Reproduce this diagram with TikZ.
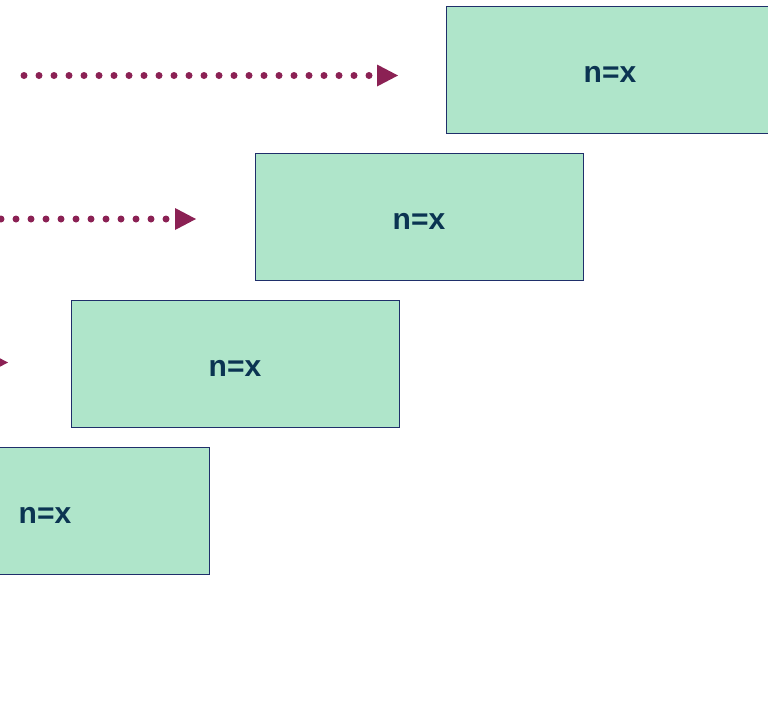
\documentclass[tikz,border=0pt]{standalone}
\usepackage{fontspec}
\newfontfamily\labfont{Liberation Sans}
\usetikzlibrary{calc}
\definecolor{boxfill}{HTML}{AFE5CA}
\definecolor{boxline}{HTML}{1F2F6A}
\definecolor{labcol}{HTML}{0B3452}
\definecolor{arrcol}{HTML}{8B2154}
\newcommand{\boxlab}{\raisebox{-13pt}[0pt][0pt]{n=x}}
\begin{document}
\begin{tikzpicture}[x=1pt,y=-1pt,
  stepbox/.style={draw=boxline,line width=0.9pt,fill=boxfill,anchor=north west,
    minimum width=328pt,minimum height=127pt,inner sep=0pt,outer sep=0pt,
    text=labcol,font=\labfont\bfseries\fontsize{30}{36}\selectfont},
  dotline/.style={draw=arrcol,line width=7pt,line cap=round,dash pattern=on 0pt off 15pt},
  tiphead/.style={fill=arrcol}]
\useasboundingbox (0,0) rectangle (768,718);
\clip (0,0) rectangle (768,718);
\node[stepbox] (b1) at (446,6) {\boxlab};
\node[stepbox] (b2) at (255,153) {\boxlab};
\node[stepbox] (b3) at (71,300) {\boxlab};
\node[stepbox] (b4) at (-119,447) {\boxlab};
% arrows
\coordinate (s1) at (24,75.5);   \coordinate (t1) at (398,75.5);
\coordinate (s2) at (-179,219);  \coordinate (t2) at (196,219);
\coordinate (s3) at (-367,362.5);\coordinate (t3) at (8,362.5);
\foreach \i in {1,2,3}{
  \draw[dotline] (s\i) -- ($(t\i)+(-29,0)$);
  \fill[tiphead] (t\i) -- ++(-21,-11) -- ++(0,22) -- cycle;
}
\end{tikzpicture}
\end{document}
